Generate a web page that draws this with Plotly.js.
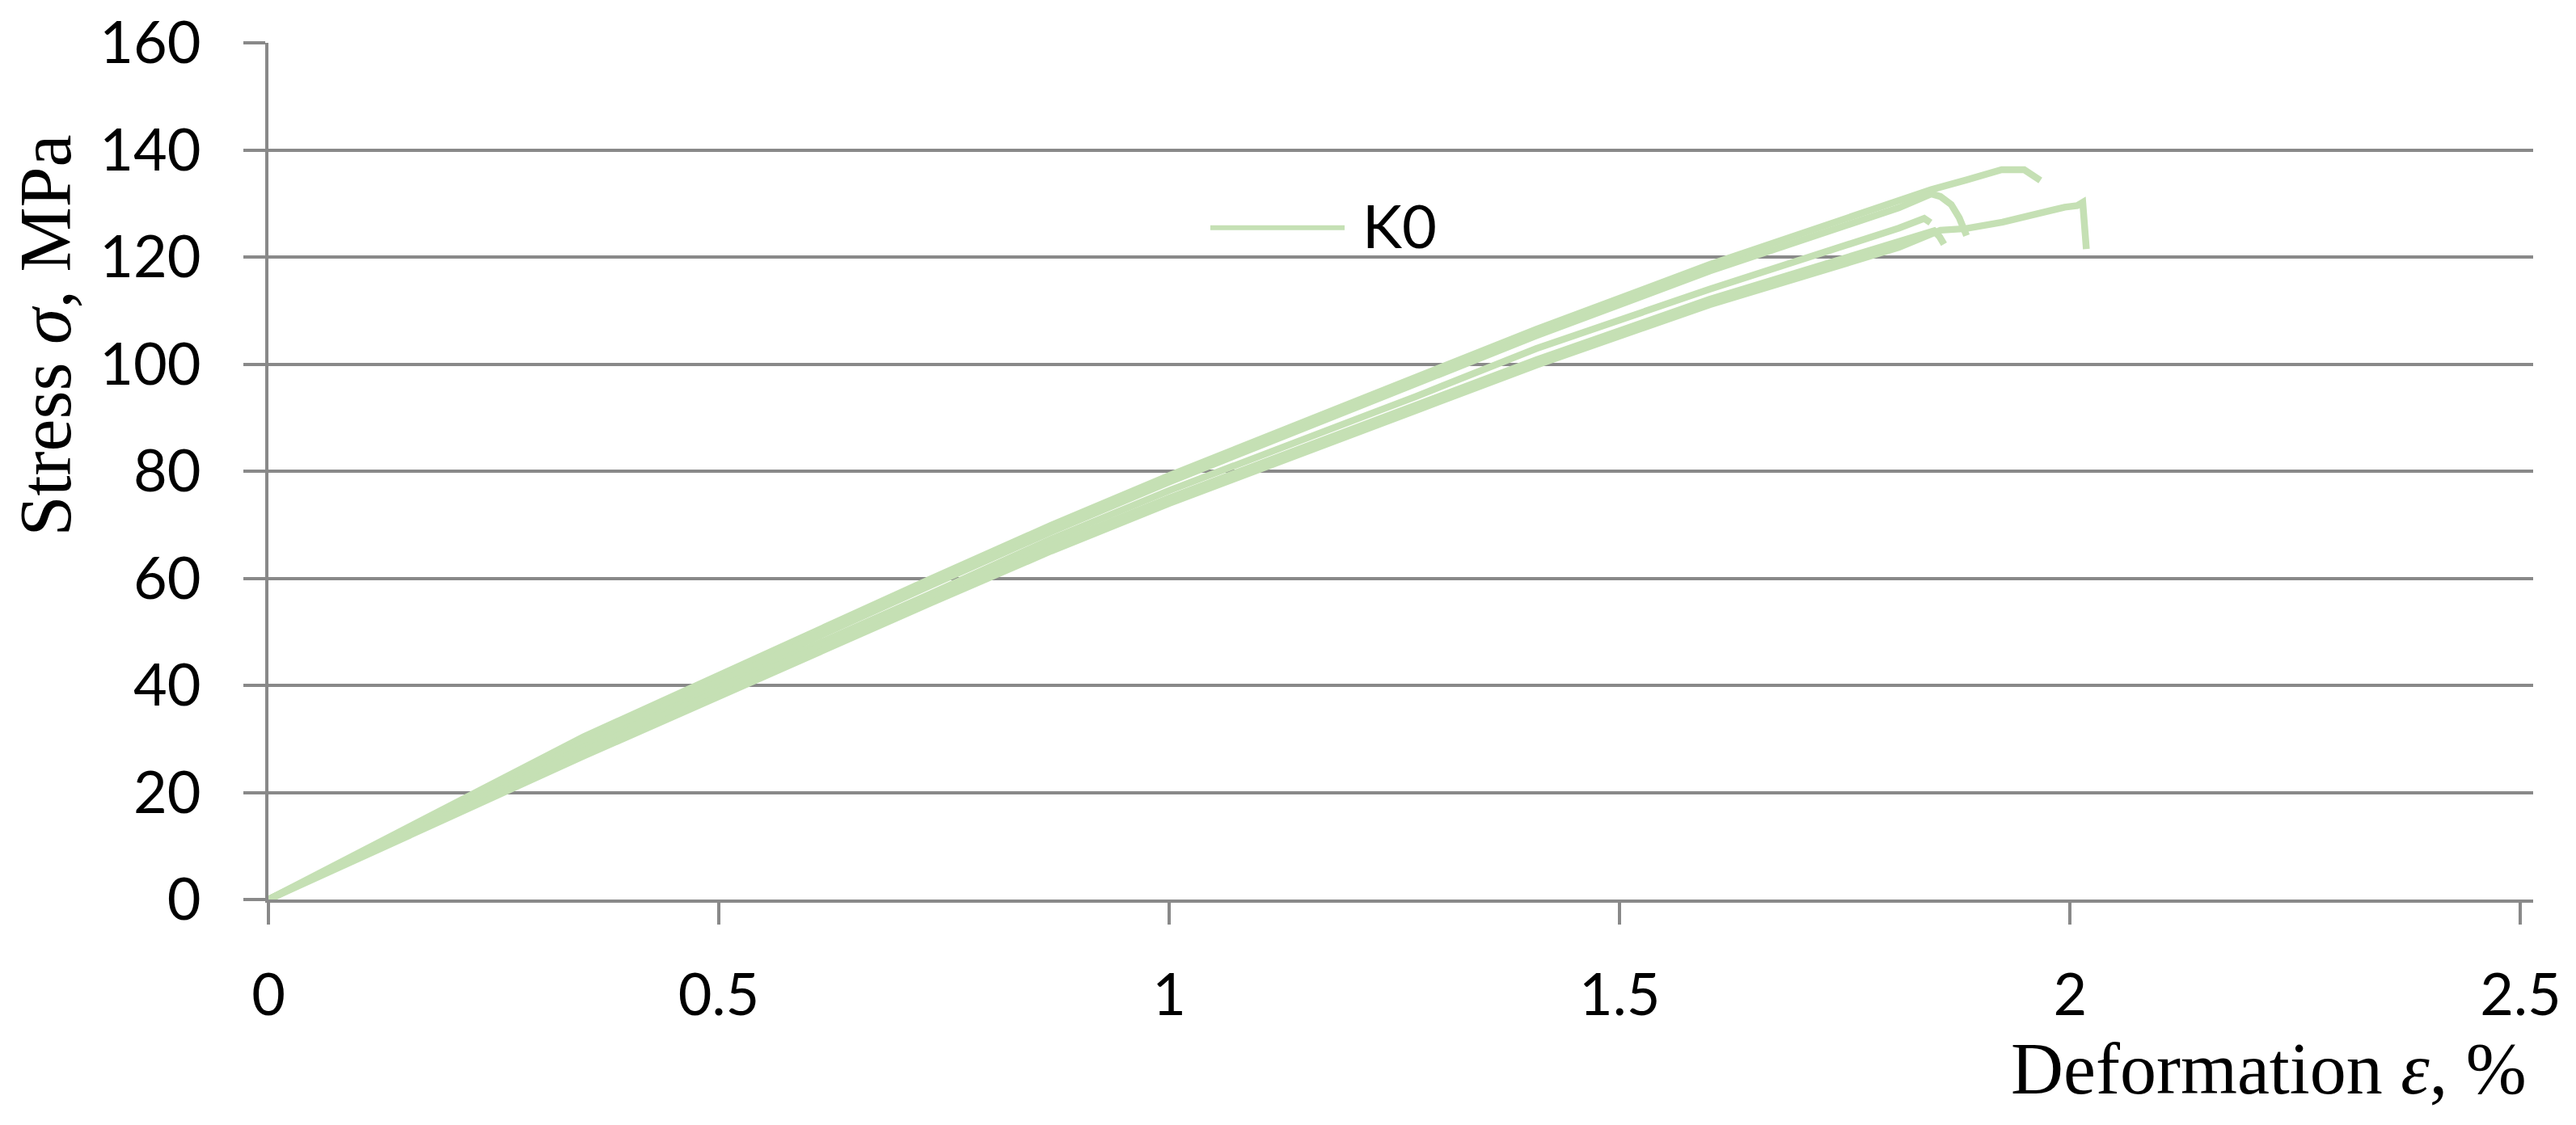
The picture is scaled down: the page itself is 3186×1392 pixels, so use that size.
<!DOCTYPE html>
<html>
<head>
<meta charset="utf-8">
<script src="https://cdn.plot.ly/plotly-3.0.1.min.js"></script>
<style>
  html, body { margin: 0; padding: 0; background: #fff; }
  #chart { width: 3186px; height: 1392px; }
</style>
</head>
<body>
<div id="chart"></div>
<script>
var lineColor = "#C5E0B4";
var gridColor = "#898989";
var seriesName = "K0";

// strain (%) and stress (MPa) for each K0 specimen
var specimen1Strain = [0, 0.35, 0.734, 0.869, 1.0, 1.273, 1.4075, 1.6, 1.767, 1.81, 1.846, 1.885, 1.924, 1.949, 1.967];
var specimen1Stress = [0, 30.4, 59.8, 69.9, 79.2, 97.6, 106.5, 118.6, 128.1, 130.4, 132.6, 134.4, 136.3, 136.3, 134.3];

var specimen2Strain = [0, 0.35, 0.734, 0.869, 1.0, 1.273, 1.4075, 1.6, 1.767, 1.81, 1.846, 1.856, 1.868, 1.877, 1.885];
var specimen2Stress = [0, 29.2, 58.6, 68.7, 78.0, 96.4, 105.3, 117.4, 126.9, 129.2, 131.8, 131.3, 129.8, 127.3, 124.0];

var specimen3Strain = [0, 0.35, 0.734, 0.869, 1.0, 1.273, 1.4075, 1.6, 1.81, 1.838, 1.845];
var specimen3Stress = [0, 28.4, 57.0, 67.3, 76.4, 93.9, 102.9, 114.0, 125.4, 127.2, 126.4];

var specimen4Strain = [0, 0.35, 0.734, 0.869, 1.0, 1.273, 1.4075, 1.6, 1.767, 1.81, 1.849, 1.855, 1.86];
var specimen4Stress = [0, 27.8, 56.3, 66.1, 75.0, 92.1, 100.8, 112.1, 120.8, 122.8, 124.9, 123.8, 122.4];

var specimen5Strain = [0, 0.35, 0.734, 0.869, 1.0, 1.273, 1.4075, 1.6, 1.767, 1.81, 1.856, 1.884, 1.925, 1.971, 1.994, 2.008, 2.014, 2.018];
var specimen5Stress = [0, 26.8, 55.3, 65.1, 74.0, 91.1, 99.8, 111.1, 119.8, 121.8, 125.0, 125.3, 126.5, 128.5, 129.3, 129.6, 130.2, 121.5];

var xTickValues = [0, 0.5, 1, 1.5, 2, 2.5];
var yTickValues = [0, 20, 40, 60, 80, 100, 120, 140, 160];

var specimens = [
  [specimen1Strain, specimen1Stress],
  [specimen2Strain, specimen2Stress],
  [specimen3Strain, specimen3Stress],
  [specimen4Strain, specimen4Stress],
  [specimen5Strain, specimen5Stress]
];

var traces = [];
for (let i = 0; i < specimens.length; i++) {
  traces.push({
    x: specimens[i][0],
    y: specimens[i][1],
    type: "scatter",
    mode: "lines",
    name: seriesName,
    line: { color: lineColor, width: 8.5 },
    showlegend: false,
    hoverinfo: "skip"
  });
}

var tickFont = { family: "Lato, 'Open Sans', sans-serif", size: 72, color: "#000" };
var titleFont = { family: "'Liberation Serif', 'DejaVu Serif', serif", size: 90, color: "#000" };

var layout = {
  width: 3186,
  height: 1392,
  margin: { l: 332, r: 53, t: 53, b: 279 },
  paper_bgcolor: "#fff",
  plot_bgcolor: "#fff",
  xaxis: {
    range: [0, 2.514],
    tickvals: xTickValues,
    showgrid: false,
    zeroline: false,
    showline: true,
    linecolor: gridColor,
    linewidth: 4,
    ticks: "outside",
    ticklen: 27,
    tickwidth: 4,
    tickcolor: gridColor,
    tickfont: tickFont,
    ticklabelstandoff: 26
  },
  yaxis: {
    range: [0, 160],
    tickvals: yTickValues,
    showgrid: true,
    gridcolor: gridColor,
    gridwidth: 4,
    zeroline: false,
    showline: true,
    linecolor: gridColor,
    linewidth: 4,
    ticks: "outside",
    ticklen: 27,
    tickwidth: 4,
    tickcolor: gridColor,
    tickfont: tickFont,
    ticklabelstandoff: 38
  },
  shapes: [
    {
      type: "line",
      xref: "paper", yref: "paper",
      x0: 0.4159, x1: 0.4752, y0: 0.7842, y1: 0.7842,
      line: { color: lineColor, width: 6 }
    }
  ],
  annotations: [
    {
      text: seriesName,
      xref: "paper", yref: "paper",
      x: 0.4823, y: 0.787,
      xanchor: "left", yanchor: "middle",
      showarrow: false,
      font: { family: "Lato, 'Open Sans', sans-serif", size: 74, color: "#000" }
    },
    {
      text: "Stress <i>σ</i>, MPa",
      xref: "paper", yref: "paper",
      x: 0, y: 0.658,
      xshift: -275,
      xanchor: "center", yanchor: "middle",
      textangle: -90,
      showarrow: false,
      font: titleFont
    },
    {
      text: "Deformation <i>ε</i>, %",
      xref: "paper", yref: "paper",
      x: 0.998, y: 0,
      yshift: -209,
      xanchor: "right", yanchor: "middle",
      showarrow: false,
      font: titleFont
    }
  ]
};

Plotly.newPlot("chart", traces, layout, { staticPlot: true });
</script>
</body>
</html>
